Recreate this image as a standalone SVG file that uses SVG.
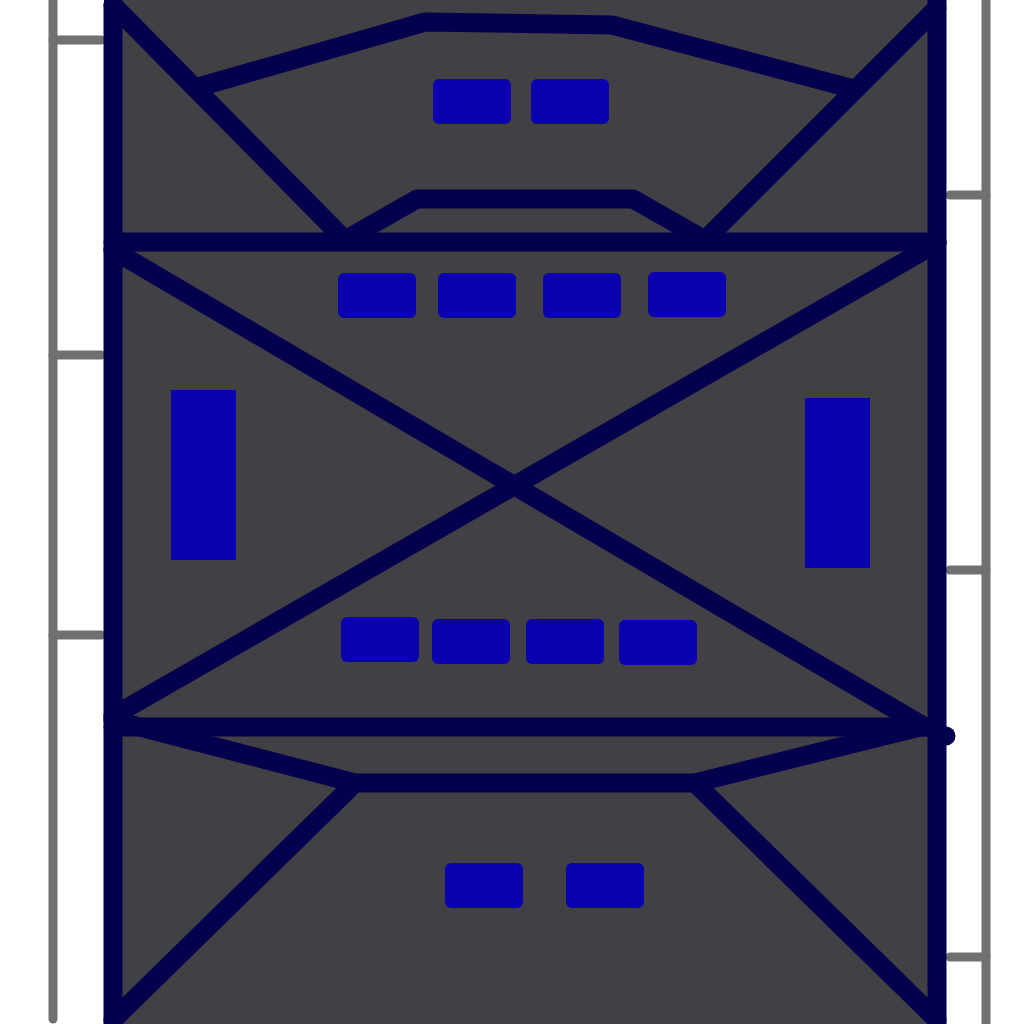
<svg xmlns="http://www.w3.org/2000/svg" width="1024" height="1024" viewBox="0 0 1024 1024">
<style>
.w{stroke:#05004e;stroke-width:19;fill:none;stroke-linecap:round;stroke-linejoin:round}
.d{stroke:#707070;stroke-width:9;fill:none;stroke-linecap:round}
.b{fill:#0b00b0}
</style>
<rect width="1024" height="1024" fill="#ffffff"/>
<g id="dimensions">
<line class="d" x1="53" y1="0" x2="53" y2="1019"/>
<line class="d" x1="53" y1="40" x2="101" y2="40"/>
<line class="d" x1="53" y1="355" x2="101" y2="355"/>
<line class="d" x1="53" y1="635" x2="101" y2="635"/>
<line class="d" x1="986" y1="0" x2="986" y2="1024"/>
<line class="d" x1="950" y1="195" x2="986" y2="195"/>
<line class="d" x1="950" y1="570" x2="986" y2="570"/>
<line class="d" x1="950" y1="957" x2="986" y2="957"/>
</g>
<rect id="floor" x="104" y="0" width="842" height="1024" fill="#414045"/>
<g id="walls">
<polyline class="w" points="113,5 113,1024"/>
<line class="w" x1="937" y1="0" x2="937" y2="1024"/>
<line class="w" x1="113" y1="242" x2="937" y2="242"/>
<line class="w" x1="113" y1="727" x2="937" y2="727"/>
<circle cx="946" cy="736" r="9.5" fill="#05004e"/>
<line class="w" x1="113" y1="5" x2="345" y2="240"/>
<line class="w" x1="937" y1="8" x2="705" y2="240"/>
<polyline class="w" points="195,88 425,22 612,25 850,88"/>
<polyline class="w" points="345,240 417,199 633,199 705,240"/>
<line class="w" x1="113" y1="250" x2="925" y2="727"/>
<line class="w" x1="937" y1="243" x2="113" y2="716"/>
<polyline class="w" points="113,720 355,783 695,783 920,727"/>
<line class="w" x1="355" y1="783" x2="113" y2="1020"/>
<line class="w" x1="695" y1="783" x2="937" y2="1020"/>
</g>
<g id="blocks">
<rect class="b" x="433" y="79" width="78" height="45" rx="6"/>
<rect class="b" x="531" y="79" width="78" height="45" rx="6"/>
<rect class="b" x="338" y="273" width="78" height="45" rx="6"/>
<rect class="b" x="438" y="273" width="78" height="45" rx="6"/>
<rect class="b" x="543" y="273" width="78" height="45" rx="6"/>
<rect class="b" x="648" y="272" width="78" height="45" rx="6"/>
<rect class="b" x="341" y="617" width="78" height="45" rx="6"/>
<rect class="b" x="432" y="619" width="78" height="45" rx="6"/>
<rect class="b" x="526" y="619" width="78" height="45" rx="6"/>
<rect class="b" x="619" y="620" width="78" height="45" rx="6"/>
<rect class="b" x="445" y="863" width="78" height="45" rx="6"/>
<rect class="b" x="566" y="863" width="78" height="45" rx="6"/>
<rect class="b" x="171" y="390" width="65" height="170"/>
<rect class="b" x="805" y="398" width="65" height="170"/>
</g>
</svg>
